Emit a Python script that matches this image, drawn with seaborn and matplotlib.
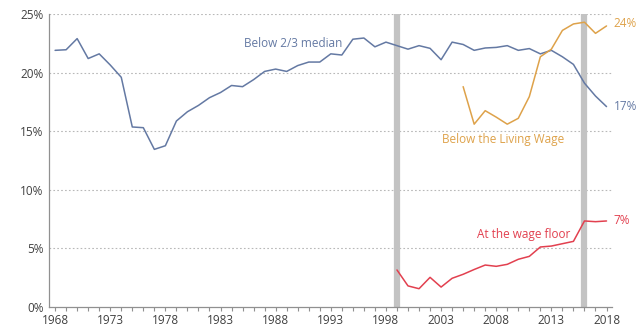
import numpy as np
import pandas as pd
import matplotlib
matplotlib.use("Agg")
import matplotlib.pyplot as plt
import seaborn as sns
from matplotlib.ticker import MultipleLocator, FuncFormatter

sns.set_style("white")
plt.rcParams['font.family'] = ['Open Sans', 'DejaVu Sans']

years_median = list(range(1968, 2019))
below_median = [21.9, 21.95, 22.9, 21.2, 21.6, 20.65, 19.6, 15.36, 15.3, 13.45,
                13.76, 15.87, 16.66, 17.2, 17.86, 18.3, 18.9, 18.8, 19.4, 20.1,
                20.3, 20.1, 20.6, 20.9, 20.9, 21.6, 21.5, 22.85, 22.95, 22.2,
                22.6, 22.3, 22.0, 22.3, 22.07, 21.1, 22.6, 22.4, 21.9, 22.1,
                22.15, 22.3, 21.9, 22.05, 21.6, 21.9, 21.35, 20.7, 19.1, 18.0, 17.1]

years_living = list(range(2005, 2019))
below_living = [18.8, 15.6, 16.75, 16.2, 15.6, 16.1, 17.95, 21.35, 22.0, 23.6,
                24.15, 24.3, 23.35, 23.98]

years_floor = list(range(1999, 2019))
wage_floor = [3.16, 1.8, 1.56, 2.53, 1.7, 2.45, 2.79, 3.2, 3.58, 3.47, 3.64,
              4.07, 4.32, 5.12, 5.2, 5.4, 5.6, 7.34, 7.28, 7.34]

marker_years = [1999, 2016]
series_names = ["Below 2/3 median", "Below the Living Wage", "At the wage floor"]
end_labels = ["17%", "24%", "7%"]

c_blue = "#6479a3"
c_orange = "#dea24a"
c_red = "#e2404f"
c_text = "#404040"

df = pd.concat([
    pd.DataFrame({"year": years_median, "value": below_median, "series": series_names[0]}),
    pd.DataFrame({"year": years_living, "value": below_living, "series": series_names[1]}),
    pd.DataFrame({"year": years_floor, "value": wage_floor, "series": series_names[2]}),
])

fig = plt.figure(figsize=(6.4, 3.35), dpi=100)
ax = fig.add_axes([0.0766, 0.0836, 0.8797, 0.8746])

for yv in [5, 10, 15, 20, 25]:
    ax.axhline(yv, color="#b8b8b8", lw=0.8, ls=(0, (1.5, 2)), zorder=0)

for my in marker_years:
    ax.axvline(my, color="#c3c3c3", lw=4.5, zorder=1)

palette = {series_names[0]: c_blue, series_names[1]: c_orange, series_names[2]: c_red}
sns.lineplot(data=df, x="year", y="value", hue="series", palette=palette,
             linewidth=1.1, legend=False, ax=ax, zorder=3)

ax.set_xlim(1967.45, 2018.5)
ax.set_ylim(0, 25)
ax.xaxis.set_minor_locator(MultipleLocator(1))
ax.set_xticks(range(1968, 2019, 5))
ax.yaxis.set_major_locator(MultipleLocator(5))
ax.yaxis.set_major_formatter(FuncFormatter(lambda v, p: f"{int(v)}%"))
ax.tick_params(axis="x", which="both", direction="out", length=3, width=0.8,
               color="#909090", labelsize=8.5, labelcolor=c_text, bottom=True, pad=2)
ax.tick_params(axis="y", length=0, labelsize=8.5, labelcolor=c_text, pad=4)
ax.set_xlabel("")
ax.set_ylabel("")
for s in ["top", "right"]:
    ax.spines[s].set_visible(False)
for s in ["left", "bottom"]:
    ax.spines[s].set_color("#909090")
    ax.spines[s].set_linewidth(0.9)

ax.text(1989.6, 22.45, series_names[0], color=c_blue, fontsize=8.5, ha="center", va="center")
ax.text(2008.6, 14.25, series_names[1], color=c_orange, fontsize=8.5, ha="center", va="center")
ax.text(2010.5, 6.2, series_names[2], color=c_red, fontsize=8.5, ha="center", va="center")

ax.text(2018.65, below_median[-1], end_labels[0], color=c_blue, fontsize=8.5, ha="left", va="center", clip_on=False)
ax.text(2018.65, below_living[-1] + 0.2, end_labels[1], color=c_orange, fontsize=8.5, ha="left", va="center", clip_on=False)
ax.text(2018.65, wage_floor[-1], end_labels[2], color=c_red, fontsize=8.5, ha="left", va="center", clip_on=False)

fig.savefig("out.png", dpi=100)
